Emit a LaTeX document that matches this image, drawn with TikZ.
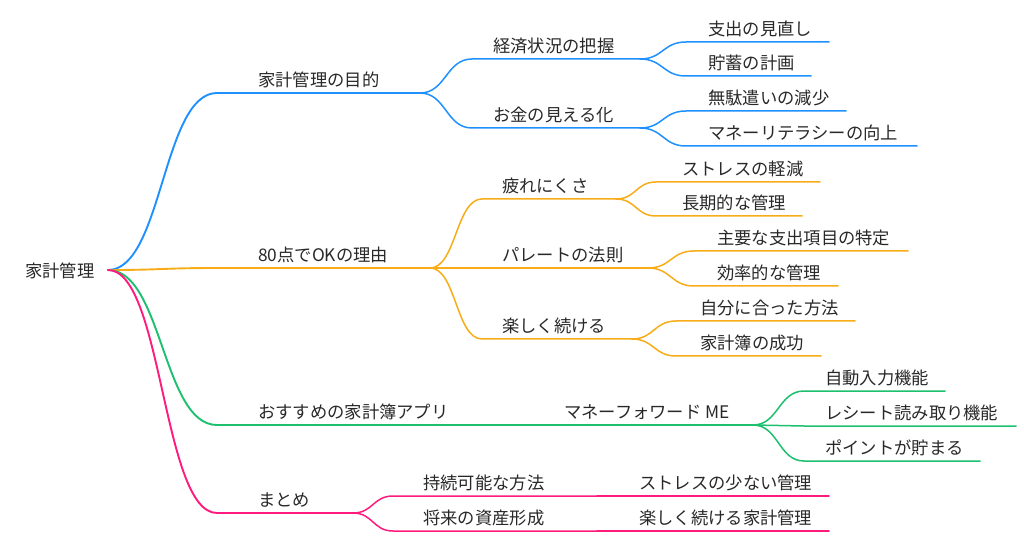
\documentclass[tikz,border=0pt]{standalone}
\usepackage{fontspec}
\setmainfont{Noto Sans CJK JP}
\usetikzlibrary{calc}

\definecolor{mmblue}{RGB}{30,144,255}
\definecolor{mmorange}{RGB}{247,172,24}
\definecolor{mmgreen}{RGB}{28,192,110}
\definecolor{mmpink}{RGB}{255,26,125}
\definecolor{mmtext}{RGB}{40,40,40}

\tikzset{
  branch/.style={to path={.. controls ($(\tikztostart)!.5!(\tikztostart -| \tikztotarget)$)
      and ($(\tikztotarget)!.5!(\tikztotarget -| \tikztostart)$) .. (\tikztotarget) \tikztonodes}},
  txt/.style={anchor=base west, inner sep=0pt, text=mmtext, font=\fontsize{17.3bp}{20bp}\selectfont},
  lone/.style={line width=1.9bp, line cap=round},
  ltwo/.style={line width=1.5bp, line cap=round}
}

\begin{document}
\begin{tikzpicture}[x=1bp,y=-1bp]
\useasboundingbox (0,0) rectangle (1024,542);

\coordinate (root) at (108,270);
\node[txt] (kakei) at (25,277.5) {家計管理};

% level 1
\coordinate (mokuteki-s) at (217,93);   \coordinate (mokuteki-e) at (420,93);
\coordinate (riyu-s) at (217,268);      \coordinate (riyu-e) at (430,268);
\coordinate (apuri-s) at (217,425);     \coordinate (apuri-e) at (500,425);
\coordinate (matome-s) at (217,513);    \coordinate (matome-e) at (353,513);

\node[txt] (mokuteki) at (258,86.5) {家計管理の目的};
\node[txt] (riyu) at (258,261.5) {80点でOKの理由};
\node[txt] (apuri) at (258,418.5) {おすすめの家計簿アプリ};
\node[txt] (matome) at (258,506.5) {まとめ};

% level 2
\coordinate (haaku-s) at (472,59);      \coordinate (haaku-e) at (640,59);
\coordinate (mieruka-s) at (472,128);   \coordinate (mieruka-e) at (640,128);
\coordinate (tsukare-s) at (482,199);   \coordinate (tsukare-e) at (616,199);
\coordinate (pareto-s) at (482,268);    \coordinate (pareto-e) at (648,268);
\coordinate (tanoshiku-s) at (482,339); \coordinate (tanoshiku-e) at (632,339);
\coordinate (moneyfwd-s) at (544,425);  \coordinate (moneyfwd-e) at (753,425);
\coordinate (jizoku-s) at (393,496);    \coordinate (jizoku-e) at (597,496);
\coordinate (shisan-s) at (393,531);    \coordinate (shisan-e) at (597,531);

\node[txt] (haaku) at (493,52.5) {経済状況の把握};
\node[txt] (mieruka) at (493,121.5) {お金の見える化};
\node[txt] (tsukare) at (502,192.5) {疲れにくさ};
\node[txt] (pareto) at (502,261.5) {パレートの法則};
\node[txt] (tanoshiku) at (502,332.5) {楽しく続ける};
\node[txt] (moneyfwd) at (564,418.5) {マネーフォワード ME};
\node[txt] (jizoku) at (423,489.5) {持続可能な方法};
\node[txt] (shisan) at (423,524.5) {将来の資産形成};

% level 3
\coordinate (minaoshi-s) at (686,42);   \coordinate (minaoshi-e) at (829,42);
\coordinate (chochiku-s) at (686,76);   \coordinate (chochiku-e) at (811,76);
\coordinate (mudazukai-s) at (686,111); \coordinate (mudazukai-e) at (846,111);
\coordinate (literacy-s) at (686,146);  \coordinate (literacy-e) at (917,146);
\coordinate (keigen-s) at (656,182);    \coordinate (keigen-e) at (820,182);
\coordinate (chouki-s) at (656,216);    \coordinate (chouki-e) at (802,216);
\coordinate (tokutei-s) at (694,251);   \coordinate (tokutei-e) at (908,251);
\coordinate (kouritsu-s) at (694,286);  \coordinate (kouritsu-e) at (838,286);
\coordinate (jibun-s) at (676,321);     \coordinate (jibun-e) at (855,321);
\coordinate (seikou-s) at (676,356);    \coordinate (seikou-e) at (821,356);
\coordinate (jidou-s) at (804,391);     \coordinate (jidou-e) at (945,391);
\coordinate (receipt-s) at (804,426);   \coordinate (receipt-e) at (1016,426);
\coordinate (point-s) at (804,461);     \coordinate (point-e) at (980,461);
\coordinate (sukunai-s) at (617,496);   \coordinate (sukunai-e) at (829,496);
\coordinate (kakeibo-s) at (617,531);   \coordinate (kakeibo-e) at (829,531);

\node[txt] (minaoshi) at (708,35.5) {支出の見直し};
\node[txt] (chochiku) at (708,69.5) {貯蓄の計画};
\node[txt] (mudazukai) at (708,104.5) {無駄遣いの減少};
\node[txt] (literacy) at (708,139.5) {マネーリテラシーの向上};
\node[txt] (keigen) at (682,175.5) {ストレスの軽減};
\node[txt] (chouki) at (682,209.5) {長期的な管理};
\node[txt] (tokutei) at (717,244.5) {主要な支出項目の特定};
\node[txt] (kouritsu) at (717,279.5) {効率的な管理};
\node[txt] (jibun) at (700,314.5) {自分に合った方法};
\node[txt] (seikou) at (700,349.5) {家計簿の成功};
\node[txt] (jidou) at (825,384.5) {自動入力機能};
\node[txt] (receipt) at (825,419.5) {レシート読み取り機能};
\node[txt] (point) at (825,454.5) {ポイントが貯まる};
\node[txt] (sukunai) at (639,489.5) {ストレスの少ない管理};
\node[txt] (kakeibo) at (639,524.5) {楽しく続ける家計管理};

% blue
\draw[lone, mmblue] (root) to[branch] (mokuteki-s) -- (mokuteki-e);
\draw[ltwo, mmblue] (mokuteki-e) to[branch] (haaku-s) -- (haaku-e);
\draw[ltwo, mmblue] (mokuteki-e) to[branch] (mieruka-s) -- (mieruka-e);
\draw[ltwo, mmblue] (haaku-e) to[branch] (minaoshi-s) -- (minaoshi-e);
\draw[ltwo, mmblue] (haaku-e) to[branch] (chochiku-s) -- (chochiku-e);
\draw[ltwo, mmblue] (mieruka-e) to[branch] (mudazukai-s) -- (mudazukai-e);
\draw[ltwo, mmblue] (mieruka-e) to[branch] (literacy-s) -- (literacy-e);

% orange
\draw[lone, mmorange] (root) to[branch] (riyu-s) -- (riyu-e);
\draw[ltwo, mmorange] (riyu-e) to[branch] (tsukare-s) -- (tsukare-e);
\draw[ltwo, mmorange] (riyu-e) to[branch] (pareto-s) -- (pareto-e);
\draw[ltwo, mmorange] (riyu-e) to[branch] (tanoshiku-s) -- (tanoshiku-e);
\draw[ltwo, mmorange] (tsukare-e) to[branch] (keigen-s) -- (keigen-e);
\draw[ltwo, mmorange] (tsukare-e) to[branch] (chouki-s) -- (chouki-e);
\draw[ltwo, mmorange] (pareto-e) to[branch] (tokutei-s) -- (tokutei-e);
\draw[ltwo, mmorange] (pareto-e) to[branch] (kouritsu-s) -- (kouritsu-e);
\draw[ltwo, mmorange] (tanoshiku-e) to[branch] (jibun-s) -- (jibun-e);
\draw[ltwo, mmorange] (tanoshiku-e) to[branch] (seikou-s) -- (seikou-e);

% green
\draw[lone, mmgreen] (root) to[branch] (apuri-s) -- (apuri-e);
\draw[ltwo, mmgreen] (apuri-e) to[branch] (moneyfwd-s) -- (moneyfwd-e);
\draw[ltwo, mmgreen] (moneyfwd-e) to[branch] (jidou-s) -- (jidou-e);
\draw[ltwo, mmgreen] (moneyfwd-e) to[branch] (receipt-s) -- (receipt-e);
\draw[ltwo, mmgreen] (moneyfwd-e) to[branch] (point-s) -- (point-e);

% pink
\draw[lone, mmpink] (root) to[branch] (matome-s) -- (matome-e);
\draw[ltwo, mmpink] (matome-e) to[branch] (jizoku-s) -- (jizoku-e);
\draw[ltwo, mmpink] (matome-e) to[branch] (shisan-s) -- (shisan-e);
\draw[ltwo, mmpink] (jizoku-e) to[branch] (sukunai-s) -- (sukunai-e);
\draw[ltwo, mmpink] (shisan-e) to[branch] (kakeibo-s) -- (kakeibo-e);

\end{tikzpicture}
\end{document}
